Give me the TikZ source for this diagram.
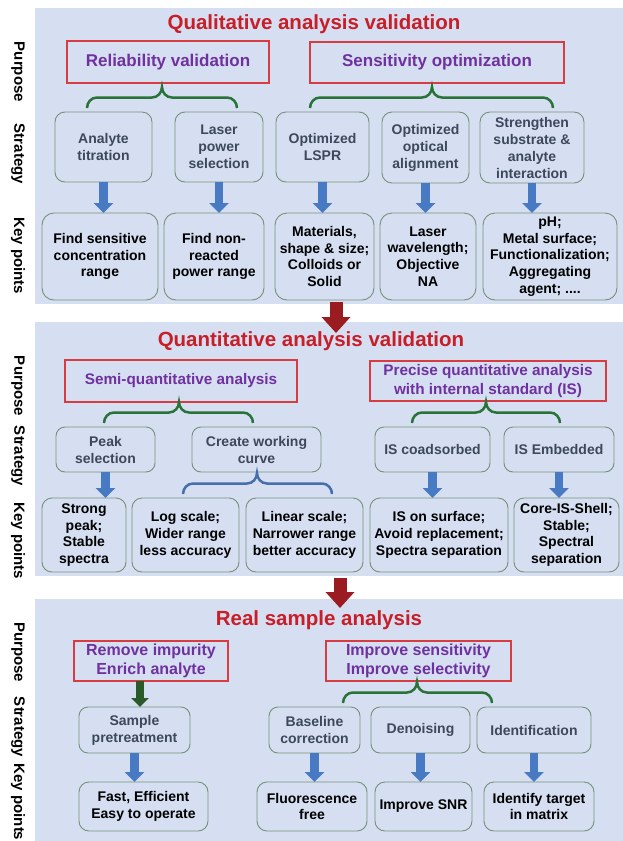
\documentclass[tikz,border=0pt]{standalone}
\usepackage{fontspec}
\setmainfont{Liberation Sans}
\usetikzlibrary{arrows.meta}
\definecolor{panelbg}{RGB}{213,223,241}
\definecolor{titlered}{RGB}{200,30,40}
\definecolor{purp}{RGB}{112,48,160}
\definecolor{boxred}{RGB}{214,60,64}
\definecolor{bordergreen}{RGB}{118,145,120}
\definecolor{strattext}{RGB}{62,72,92}
\definecolor{bracegreen}{RGB}{40,115,55}
\definecolor{braceblue}{RGB}{70,110,170}
\definecolor{arrowblue}{RGB}{72,122,196}
\definecolor{arrowred}{RGB}{155,28,32}
\definecolor{arrowgreen}{RGB}{42,90,42}
\newcommand{\mybrace}[6]{\draw[#1] (#2,#6) to[out=90,in=180] ({#2+10},{(#5+#6)/2}) -- ({#4-10},{(#5+#6)/2}) to[out=0,in=-90] (#4,#5) to[out=-90,in=180] ({#4+10},{(#5+#6)/2}) -- ({#3-10},{(#5+#6)/2}) to[out=0,in=90] (#3,#6);}
\tikzset{
 panel/.style={fill=panelbg, draw=none, inner sep=0pt, outer sep=0pt},
 titletext/.style={text=titlered, font=\bfseries\fontsize{20.5}{24}\selectfont},
 purpbox/.style={draw=boxred, line width=1.4pt, text=purp, align=center, inner sep=1pt, outer sep=0pt},
 stratbox/.style={draw=bordergreen, line width=0.9pt, rounded corners=10pt, text=strattext, align=center, inner sep=1pt, outer sep=0pt, font=\bfseries\fontsize{14}{17}\selectfont},
 keybox/.style={draw=bordergreen, line width=0.9pt, rounded corners=12pt, text=black, align=center, inner sep=1pt, outer sep=0pt, font=\bfseries\fontsize{14}{16.7}\selectfont},
 sidelabel/.style={rotate=-90, font=\bfseries\fontsize{15}{18}\selectfont},
 bluearrow/.style={draw=arrowblue, line width=8.5pt, -{Triangle[width=19pt,length=10pt]}},
 redarrow/.style={draw=arrowred, line width=13pt, -{Triangle[width=28pt,length=16pt]}},
 greenarrow/.style={draw=arrowgreen, line width=8pt, -{Triangle[width=17pt,length=9pt]}},
 gbrace/.style={draw=bracegreen, line width=2.5pt},
 bbrace/.style={draw=braceblue, line width=2.5pt},
}
\begin{document}
\begin{tikzpicture}[x=1pt,y=-1pt]
\useasboundingbox (0,0) rectangle (622,841);
\fill[white] (0,0) rectangle (622,841);
% panels
\node[panel, minimum width=590pt, minimum height=296pt] (pan1) at (330,156) {};
\node[panel, minimum width=590pt, minimum height=254pt] (pan2) at (330,449) {};
\node[panel, minimum width=590pt, minimum height=246pt] (pan3) at (330,722) {};
% side labels
\node[sidelabel] (lp1) at (18,72) {Purpose};
\node[sidelabel] (ls1) at (18,154) {Strategy};
\node[sidelabel] (lk1) at (18,256) {Key points};
\node[sidelabel] (lp2) at (18,386) {Purpose};
\node[sidelabel] (ls2) at (18,456) {Strategy};
\node[sidelabel] (lk2) at (18,541) {Key points};
\node[sidelabel] (lp3) at (18,652) {Purpose};
\node[sidelabel] (ls3) at (18,727) {Strategy};
\node[sidelabel] (lk3) at (18,802) {Key points};
% ===== Panel 1 =====
\node[titletext] (t1) at (314,24) {Qualitative analysis validation};
\node[purpbox, font=\bfseries\fontsize{17}{20}\selectfont, minimum width=202pt, minimum height=42pt] (p1a) at (168,62) {Reliability validation};
\node[purpbox, font=\bfseries\fontsize{17}{20}\selectfont, minimum width=254pt, minimum height=41pt] (p1b) at (437,62.5) {Sensitivity optimization};
\mybrace{gbrace}{87}{237}{162}{87}{108}
\mybrace{gbrace}{310}{553}{432}{87}{108}
\node[stratbox, minimum width=97pt, minimum height=70pt] (s1a) at (103.5,147) {Analyte\\titration};
\node[stratbox, minimum width=88pt, minimum height=70pt] (s1b) at (219,147) {Laser\\power\\selection};
\node[stratbox, minimum width=93pt, minimum height=70pt] (s1c) at (322.5,147) {Optimized\\LSPR};
\node[stratbox, minimum width=87pt, minimum height=71pt] (s1d) at (425.5,147.5) {Optimized\\optical\\alignment};
\node[stratbox, minimum width=104pt, minimum height=71pt] (s1e) at (532,147.5) {Strengthen\\substrate \&\\analyte\\interaction};
\node[keybox, minimum width=116pt, minimum height=87pt] (k1a) at (100,256.5) {Find sensitive\\concentration\\range};
\node[keybox, minimum width=100pt, minimum height=87pt] (k1b) at (214,256.5) {Find non-\\reacted\\power range};
\node[keybox, minimum width=99pt, minimum height=87pt] (k1c) at (324.5,256.5) {Materials,\\shape \& size;\\Colloids or\\Solid};
\node[keybox, minimum width=96pt, minimum height=87pt] (k1d) at (428,256.5) {Laser\\wavelength;\\Objective\\NA};
\node[keybox, minimum width=134pt, minimum height=87pt] (k1e) at (550,256.5) {pH;\\Metal surface;\\Functionalization;\\Aggregating\\agent; ....};
\foreach \s/\k in {s1a/k1a,s1b/k1b,s1c/k1c,s1d/k1d,s1e/k1e}
  \draw[bluearrow] (\s.south) -- (\s.south |- \k.north);
% ===== Panel 2 =====
\node[titletext] (t2) at (311,341) {Quantitative analysis validation};
\node[purpbox, font=\bfseries\fontsize{15.3}{18.5}\selectfont, minimum width=232pt, minimum height=42pt] (p2a) at (181,381) {Semi-quantitative analysis};
\node[purpbox, font=\bfseries\fontsize{15.3}{18.5}\selectfont, minimum width=236pt, minimum height=40pt] (p2b) at (488,381) {Precise quantitative analysis\\with internal standard (IS)};
\mybrace{gbrace}{104}{253}{179}{402}{423}
\mybrace{gbrace}{412}{560}{486}{402}{423}
\node[stratbox, rounded corners=9pt, minimum width=99pt, minimum height=45pt] (s2a) at (105.5,449.5) {Peak\\selection};
\node[stratbox, rounded corners=9pt, minimum width=129pt, minimum height=45pt] (s2b) at (256.5,449.5) {Create working\\curve};
\node[stratbox, rounded corners=9pt, minimum width=115pt, minimum height=45pt] (s2c) at (432.5,449.5) {IS coadsorbed};
\node[stratbox, rounded corners=9pt, minimum width=110pt, minimum height=45pt] (s2d) at (559,449.5) {IS Embedded};
\mybrace{bbrace}{183}{332}{257}{473}{494}
\node[keybox, rounded corners=10pt, minimum width=84pt, minimum height=74pt] (k2a) at (84,535) {Strong\\peak;\\Stable\\spectra};
\node[keybox, rounded corners=10pt, minimum width=107pt, minimum height=74pt] (k2b) at (185.5,535) {Log scale;\\Wider range\\less accuracy};
\node[keybox, rounded corners=10pt, minimum width=117pt, minimum height=74pt] (k2c) at (304.5,535) {Linear scale;\\Narrower range\\better accuracy};
\node[keybox, rounded corners=10pt, minimum width=138pt, minimum height=74pt] (k2d) at (439,535) {IS on surface;\\Avoid replacement;\\Spectra separation};
\node[keybox, rounded corners=10pt, minimum width=105pt, minimum height=74pt] (k2e) at (566.5,535) {Core-IS-Shell;\\Stable;\\Spectral\\separation};
\draw[bluearrow] (s2a.south) -- (s2a.south |- k2a.north);
\draw[bluearrow] (s2c.south) -- (s2c.south |- k2d.north);
\draw[bluearrow] (s2d.south) -- (s2d.south |- k2e.north);
% ===== Panel 3 =====
\node[titletext] (t3) at (319,620) {Real sample analysis};
\node[purpbox, font=\bfseries\fontsize{16}{19.3}\selectfont, minimum width=154pt, minimum height=40pt] (p3a) at (151,661) {Remove impurity\\Enrich analyte};
\node[purpbox, font=\bfseries\fontsize{16}{19.3}\selectfont, minimum width=185pt, minimum height=40pt] (p3b) at (418.5,661) {Improve sensitivity\\Improve selectivity};
\mybrace{gbrace}{343}{492}{417}{682}{703}
\node[stratbox, rounded corners=9pt, minimum width=111pt, minimum height=46pt] (s3a) at (134.5,730) {Sample\\pretreatment};
\node[stratbox, rounded corners=9pt, minimum width=91pt, minimum height=46pt] (s3b) at (314.5,730) {Baseline\\correction};
\node[stratbox, rounded corners=9pt, minimum width=99pt, minimum height=46pt] (s3c) at (420.5,730) {Denoising};
\node[stratbox, rounded corners=9pt, minimum width=114pt, minimum height=46pt] (s3d) at (534,730) {Identification};
\draw[greenarrow] ([xshift=5.5pt]p3a.south -| s3a.north) -- ([xshift=5.5pt]s3a.north);
\node[keybox, rounded corners=10pt, minimum width=129pt, minimum height=49pt] (k3a) at (143.5,806.5) {Fast, Efficient\\Easy to operate};
\node[keybox, rounded corners=10pt, minimum width=110pt, minimum height=49pt] (k3b) at (312,806.5) {Fluorescence\\free};
\node[keybox, rounded corners=10pt, minimum width=97pt, minimum height=49pt] (k3c) at (423.5,806.5) {Improve SNR};
\node[keybox, rounded corners=10pt, minimum width=110pt, minimum height=49pt] (k3d) at (539,806.5) {Identify target\\in matrix};
\foreach \s/\k in {s3a/k3a,s3b/k3b,s3c/k3c,s3d/k3d}
  \draw[bluearrow] (\s.south) -- (\s.south |- \k.north);
% red arrows between panels
\coordinate (r1s) at (336,302);
\coordinate (r1e) at (336,333);
\draw[redarrow] (r1s) -- (r1e);
\coordinate (r2s) at (340,578);
\coordinate (r2e) at (340,608);
\draw[redarrow] (r2s) -- (r2e);
\end{tikzpicture}
\end{document}
